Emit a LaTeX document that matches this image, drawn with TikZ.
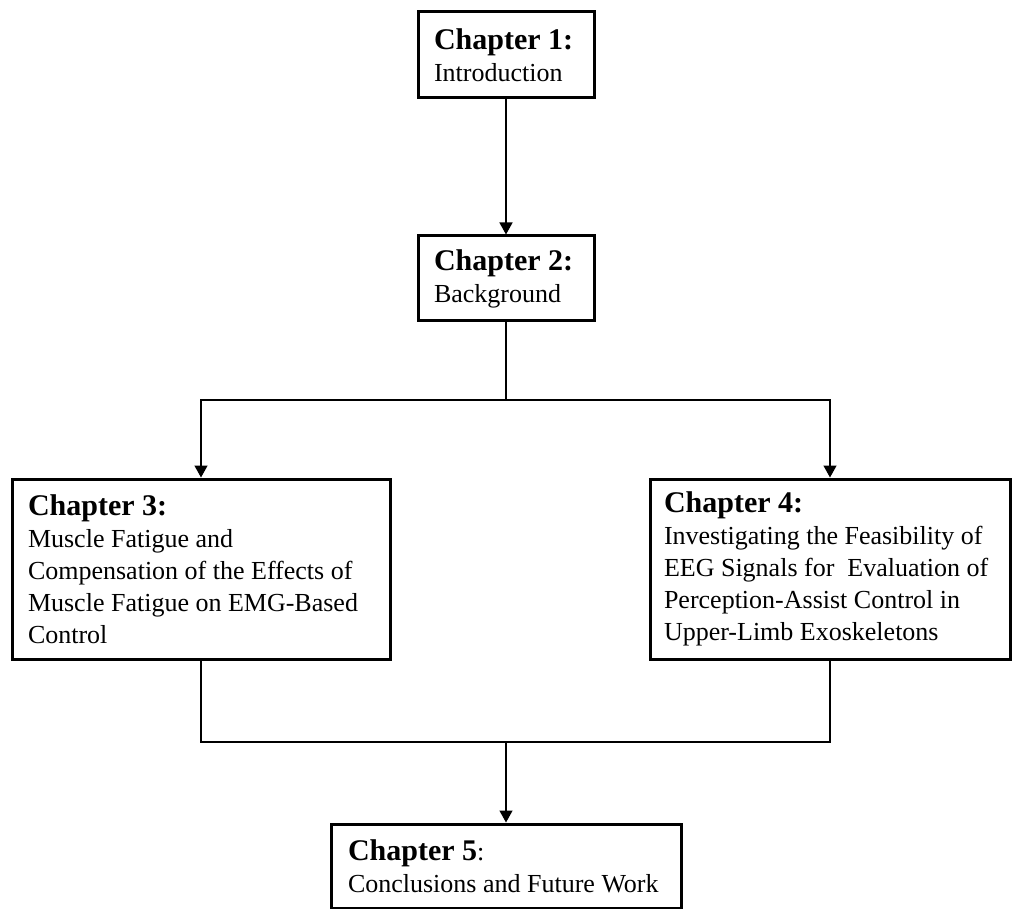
\documentclass[tikz,border=0pt]{standalone}
\usepackage{fontspec}
\setmainfont{Liberation Serif}
\usepackage{tikz}
\usetikzlibrary{arrows.meta,positioning,calc}

\newcommand{\chaphead}[1]{{\fontsize{15pt}{16pt}\selectfont\bfseries #1}}

\begin{document}
\begin{tikzpicture}[
    x=0.5pt, y=-0.5pt,
    chapbox/.style={rectangle, draw=black, line width=1.5pt, fill=white,
        inner xsep=8pt, inner ysep=0pt, align=flush left,
        font=\fontsize{13pt}{16pt}\selectfont},
    link/.style={draw=black, line width=0.7pt},
    flow/.style={-{Triangle[length=6pt,width=6.5pt]}, line width=0.7pt, draw=black}
]
\useasboundingbox (0,0) rectangle (1012,909);

\node[chapbox, minimum width=88pt, minimum height=43pt, text width=72pt] (ch1) at (506,55)
    {\chaphead{Chapter 1:}\\Introduction};
\node[chapbox, minimum width=88pt, minimum height=42.5pt, text width=72pt] (ch2) at (506,278.5)
    {\chaphead{Chapter 2:}\\Background};
\node[chapbox, minimum width=189pt, minimum height=90pt, text width=173pt] (ch3) at (201,569)
    {\chaphead{Chapter 3:}\\Muscle Fatigue and\\Compensation of the Effects of\\Muscle Fatigue on EMG-Based\\Control};
\node[chapbox, minimum width=180pt, minimum height=90pt, text width=166pt, inner xsep=7pt] (ch4) at (830,569)
    {\chaphead{Chapter 4:}\\Investigating the Feasibility of\\EEG Signals for\ \ Evaluation of\\Perception-Assist Control in\\Upper-Limb Exoskeletons};
\node[chapbox, minimum width=175pt, minimum height=42pt, text width=158pt, inner xsep=8.5pt] (ch5) at (506,866)
    {\chaphead{Chapter 5}:\\Conclusions and Future Work};

\coordinate (split) at (506,400);
\coordinate (merge) at (506,742);

\draw[flow] (ch1.south) -- (ch2.north);
\draw[link] (ch2.south) -- (split);
\draw[flow] (split) -| (ch3.north);
\draw[flow] (split) -| (ch4.north);

\draw[link] (ch3.south) |- (merge);
\draw[link] (ch4.south) |- (merge);
\draw[flow] (merge) -- (ch5.north);

\end{tikzpicture}
\end{document}
